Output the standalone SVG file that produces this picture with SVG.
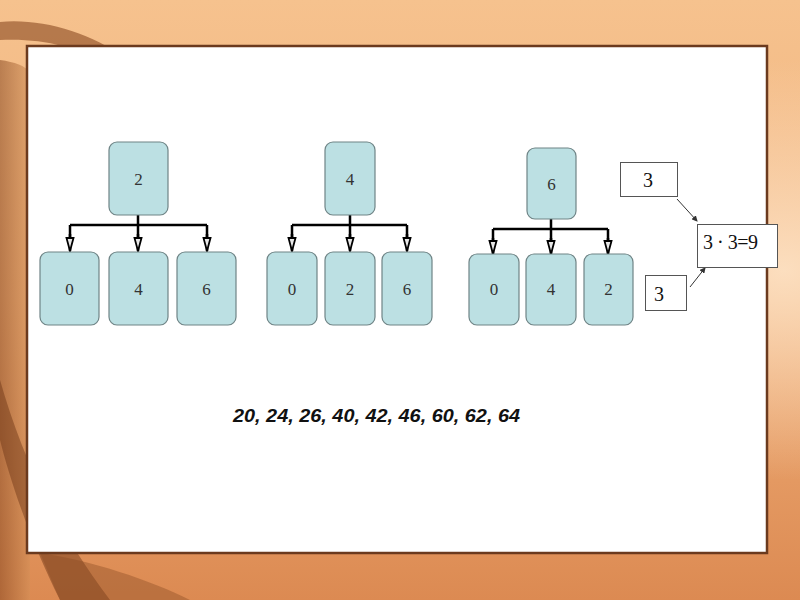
<svg xmlns="http://www.w3.org/2000/svg" width="800" height="600" viewBox="0 0 800 600">
<defs>
<linearGradient id="bg" x1="0" y1="0" x2="0" y2="1">
<stop offset="0" stop-color="#f6c28e"/>
<stop offset="0.5" stop-color="#f0b07a"/>
<stop offset="1" stop-color="#dc8a52"/>
</linearGradient>
<radialGradient id="glow" cx="0.98" cy="0.45" r="0.35">
<stop offset="0" stop-color="#fde3c6" stop-opacity="0.9"/>
<stop offset="1" stop-color="#fde3c6" stop-opacity="0"/>
</radialGradient>
<linearGradient id="swirl" x1="0" y1="0" x2="1" y2="0">
<stop offset="0" stop-color="#8a4a22"/>
<stop offset="1" stop-color="#d29058"/>
</linearGradient>
<marker id="tri" markerWidth="16" markerHeight="10" refX="15" refY="5" orient="auto" markerUnits="userSpaceOnUse" viewBox="0 0 16 10">
<path d="M2,1.5 L15,5 L2,8.5 Z" fill="#e8e8e8" stroke="#000" stroke-width="1.8"/>
</marker>
<marker id="small" markerWidth="6" markerHeight="6" refX="5" refY="3" orient="auto" markerUnits="userSpaceOnUse">
<path d="M0,0 L6,3 L0,6 Z" fill="#333"/>
</marker>
<style>
.node rect{fill:#bce0e3;stroke:#6f8486;stroke-width:1.2}
.node text{font-family:'Liberation Serif','Times New Roman',serif;font-size:17px;fill:#333;text-anchor:middle}
.edge{fill:none;stroke:#000;stroke-width:2.5}
.box rect{fill:#fff;stroke:#555;stroke-width:1}
.box text{font-family:'Liberation Serif','Times New Roman',serif;font-size:20px;fill:#111}
.thin{fill:none;stroke:#333;stroke-width:1}
</style>
</defs>
<rect width="800" height="600" fill="url(#bg)"/>
<rect width="800" height="600" fill="url(#glow)"/>
<g id="background-swirl">
<path d="M0,22 C40,18 90,32 125,58 L108,66 C78,46 40,38 0,40 Z" fill="#8b4a22" opacity="0.6"/>
<path d="M0,60 C15,62 25,66 30,72 L30,600 L0,600 Z" fill="url(#swirl)" opacity="0.55"/>
<path d="M0,380 C20,450 50,520 110,600 L60,600 C30,540 10,480 0,440 Z" fill="#6a3214" opacity="0.45"/>
<path d="M40,553 C90,560 150,580 190,600 L60,600 Z" fill="#8a4a22" opacity="0.4"/>
</g>
<g id="panel">
<rect x="27" y="46" width="740" height="507" fill="#fff" stroke="#6b3a1e" stroke-width="2.5"/>
</g>
<g id="connectors">
<path class="edge" d="M138,215 V225 M70,225 H207 M70,225 V240 M138,225 V240 M207,225 V240"/>
<path class="edge" marker-end="url(#tri)" d="M70,234 V251"/>
<path class="edge" marker-end="url(#tri)" d="M138,234 V251"/>
<path class="edge" marker-end="url(#tri)" d="M207,234 V251"/>
<path class="edge" d="M350,215 V225 M292,225 H407 M292,225 V240 M350,225 V240 M407,225 V240"/>
<path class="edge" marker-end="url(#tri)" d="M292,234 V251"/>
<path class="edge" marker-end="url(#tri)" d="M350,234 V251"/>
<path class="edge" marker-end="url(#tri)" d="M407,234 V251"/>
<path class="edge" d="M551,219 V229 M493,229 H608 M493,229 V244 M551,229 V244 M608,229 V244"/>
<path class="edge" marker-end="url(#tri)" d="M493,238 V254"/>
<path class="edge" marker-end="url(#tri)" d="M551,238 V254"/>
<path class="edge" marker-end="url(#tri)" d="M608,238 V254"/>
<path class="thin" marker-end="url(#small)" d="M677,199 L697,221"/>
<path class="thin" marker-end="url(#small)" d="M690,287 L705,268"/>
</g>
<g id="n2a" class="node"><rect x="109" y="142" width="59" height="73" rx="8"/><text x="138.5" y="185">2</text></g>
<g id="n0a" class="node"><rect x="40" y="252" width="59" height="73" rx="8"/><text x="69.5" y="295">0</text></g>
<g id="n4a" class="node"><rect x="109" y="252" width="59" height="73" rx="8"/><text x="138.5" y="295">4</text></g>
<g id="n6a" class="node"><rect x="177" y="252" width="59" height="73" rx="8"/><text x="206.5" y="295">6</text></g>
<g id="n4b" class="node"><rect x="325" y="142" width="50" height="73" rx="8"/><text x="350" y="185">4</text></g>
<g id="n0b" class="node"><rect x="267" y="252" width="50" height="73" rx="8"/><text x="292" y="295">0</text></g>
<g id="n2b" class="node"><rect x="325" y="252" width="50" height="73" rx="8"/><text x="350" y="295">2</text></g>
<g id="n6b" class="node"><rect x="382" y="252" width="50" height="73" rx="8"/><text x="407" y="295">6</text></g>
<g id="n6c" class="node"><rect x="527" y="148" width="49" height="71" rx="8"/><text x="551.5" y="190">6</text></g>
<g id="n0c" class="node"><rect x="469" y="254" width="50" height="71" rx="8"/><text x="494" y="295">0</text></g>
<g id="n4c" class="node"><rect x="526" y="254" width="50" height="71" rx="8"/><text x="551" y="295">4</text></g>
<g id="n2c" class="node"><rect x="584" y="254" width="49" height="71" rx="8"/><text x="608.5" y="295">2</text></g>
<g id="b3top" class="box"><rect x="620.5" y="162.5" width="57" height="34"/><text x="643" y="187">3</text></g>
<g id="bprod" class="box"><rect x="697.5" y="224.5" width="80" height="43"/><text x="703" y="249" textLength="55" lengthAdjust="spacing">3 · 3=9</text></g>
<g id="b3bot" class="box"><rect x="645.5" y="275.5" width="41" height="35"/><text x="654" y="301">3</text></g>
<text x="233" y="422" textLength="287" lengthAdjust="spacingAndGlyphs" font-family="'Liberation Sans',Arial,sans-serif" font-size="18" font-weight="bold" font-style="italic" fill="#111">20, 24, 26, 40, 42, 46, 60, 62, 64</text>
</svg>
